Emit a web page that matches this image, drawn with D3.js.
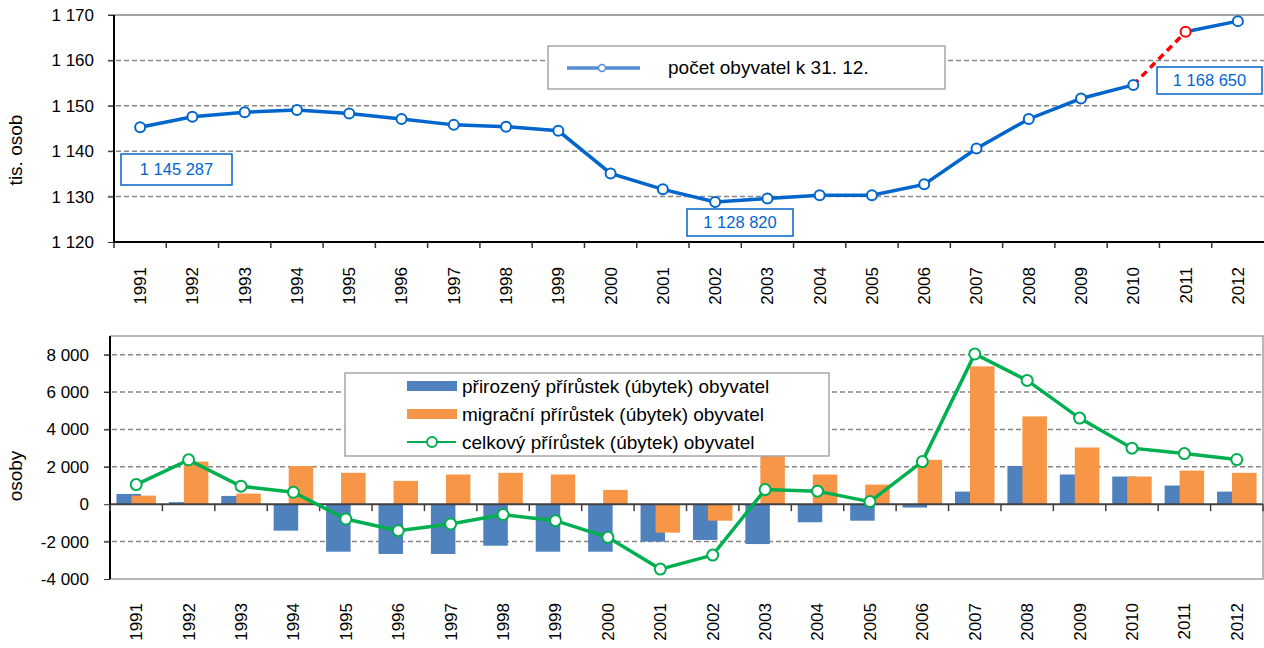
<!DOCTYPE html>
<html>
<head>
<meta charset="utf-8">
<script src="https://cdn.jsdelivr.net/npm/d3@7"></script>
<style>
  body { margin: 0; background: #fff; }
  svg { display: block; font-family: "Liberation Sans", Arial, sans-serif; }
</style>
</head>
<body>
<svg id="chart" width="1264" height="648"></svg>
<script>
// years on both charts
const years = d3.range(1991, 2013).map(String);

// top chart - population at 31. 12. (thousands)
const population = [1145.287, 1147.6, 1148.6, 1149.1, 1148.3, 1147.1, 1145.8, 1145.4, 1144.5, 1135.1,
  1131.6, 1128.82, 1129.6, 1130.3, 1130.3, 1132.7, 1140.6, 1147.1, 1151.6, 1154.6, 1166.3, 1168.65];
const popTicks = [1120, 1130, 1140, 1150, 1160, 1170];
const popLabels = [
  { year: "1991", text: "1 145 287" },
  { year: "2002", text: "1 128 820" },
  { year: "2012", text: "1 168 650" }
];

// bottom chart - natural, migration and total increase (persons)
const natural = [550, 110, 445, -1415, -2540, -2660, -2660, -2220, -2540, -2540,
  -2000, -1910, -2130, -965, -880, -180, 675, 2050, 1590, 1480, 1000, 675];
const migration = [460, 2280, 570, 2040, 1680, 1250, 1590, 1680, 1590, 765,
  -1520, -880, 2900, 1590, 1050, 2375, 7375, 4700, 3035, 1480, 1800, 1680];
const total = [1050, 2375, 965, 640, -790, -1415, -1055, -555, -880, -1770,
  -3470, -2720, 785, 700, 140, 2280, 8040, 6625, 4610, 3000, 2710, 2390];
const incTicks = [-4000, -2000, 0, 2000, 4000, 6000, 8000];
const legendNames = [
  "přirozený přírůstek (úbytek) obyvatel",
  "migrační přírůstek (úbytek) obyvatel",
  "celkový přírůstek (úbytek) obyvatel"
];

const fmt = d3.formatLocale({ decimal: ",", thousands: "\u00a0", grouping: [3], currency: ["", ""], minus: "-" }).format(",d");

const svg = d3.select("#chart");
const blue = "#0066cc", red = "#ff0000", green = "#00b050";
const natColor = "#4f81bd", migColor = "#f79646";
const gridColor = "#868686";

// ================= top chart =================
const x1 = d3.scaleBand().domain(years).range([114, 1264]);
const y1 = d3.scaleLinear().domain([1120, 1170]).range([242, 15]);
const gTop = svg.append("g");

gTop.selectAll("line.grid").data(popTicks.filter(d => d > 1120)).enter().append("line")
  .attr("x1", 108).attr("x2", 1264)
  .attr("y1", d => y1(d)).attr("y2", d => y1(d))
  .attr("stroke", gridColor).attr("stroke-width", 1.5)
  .attr("stroke-dasharray", d => d === 1170 ? null : "5,3");

const yAx1 = gTop.append("g").attr("transform", "translate(114,0)")
  .call(d3.axisLeft(y1).tickValues(popTicks).tickSize(6).tickPadding(14).tickFormat(fmt));
yAx1.select(".domain").remove();
yAx1.selectAll("line").attr("stroke", "#333");
yAx1.selectAll("text").attr("font-size", 17).attr("fill", "#000");

gTop.append("line").attr("x1", 114).attr("x2", 114).attr("y1", 15).attr("y2", 242)
  .attr("stroke", "#000").attr("stroke-width", 2);
gTop.append("line").attr("x1", 114).attr("x2", 1264).attr("y1", 242).attr("y2", 242)
  .attr("stroke", "#000").attr("stroke-width", 2);

// tick marks at band edges
gTop.selectAll("line.xt").data(years).enter().append("line")
  .attr("x1", d => x1(d)).attr("x2", d => x1(d))
  .attr("y1", 242).attr("y2", 248).attr("stroke", "#333").attr("stroke-width", 1.5);

const xAx1 = gTop.append("g").attr("transform", "translate(0,242)")
  .call(d3.axisBottom(x1).tickSize(0));
xAx1.select(".domain").remove();
xAx1.selectAll("text").attr("font-size", 17).attr("fill", "#000")
  .attr("text-anchor", "end").attr("transform", "rotate(-90)")
  .attr("x", -25).attr("y", 0).attr("dy", "0.35em");

gTop.append("text").attr("transform", "translate(22,150) rotate(-90)")
  .attr("text-anchor", "middle").attr("font-size", 19).text("tis. osob");

const pts = population.map((v, i) => ({ year: years[i], v }));
const line1 = d3.line().x(d => x1(d.year) + x1.bandwidth() / 2).y(d => y1(d.v));
gTop.append("path").datum(pts.slice(0, 20)).attr("d", line1)
  .attr("fill", "none").attr("stroke", blue).attr("stroke-width", 3.5);
gTop.append("path").datum(pts.slice(20)).attr("d", line1)
  .attr("fill", "none").attr("stroke", blue).attr("stroke-width", 3.5);
gTop.append("path").datum(pts.slice(19, 21)).attr("d", line1)
  .attr("fill", "none").attr("stroke", red).attr("stroke-width", 3.5).attr("stroke-dasharray", "7,5");
gTop.selectAll("circle.p").data(pts).enter().append("circle")
  .attr("cx", d => x1(d.year) + x1.bandwidth() / 2).attr("cy", d => y1(d.v)).attr("r", 5)
  .attr("fill", "#fff").attr("stroke", d => d.year === "2011" ? red : blue).attr("stroke-width", 2);

// value labels
const boxes = [
  { x: 121, y: 154, w: 111, h: 31 },
  { x: 687, y: 209, w: 106, h: 27 },
  { x: 1157, y: 67, w: 105, h: 27 }
];
popLabels.forEach((l, i) => {
  const b = boxes[i];
  gTop.append("rect").attr("x", b.x).attr("y", b.y).attr("width", b.w).attr("height", b.h)
    .attr("fill", "#fff").attr("stroke", blue).attr("stroke-width", 1.5);
  gTop.append("text").attr("x", b.x + b.w / 2).attr("y", b.y + b.h / 2).attr("dy", "0.35em")
    .attr("text-anchor", "middle").attr("font-size", 16.5).attr("fill", blue).text(l.text);
});

// legend
gTop.append("rect").attr("x", 548).attr("y", 46).attr("width", 397).attr("height", 43)
  .attr("fill", "#fff").attr("stroke", "#a6a6a6").attr("stroke-width", 1.5);
gTop.append("line").attr("x1", 567).attr("x2", 640).attr("y1", 68).attr("y2", 68)
  .attr("stroke", "#558ed5").attr("stroke-width", 3.5);
gTop.append("circle").attr("cx", 602).attr("cy", 68).attr("r", 3.5)
  .attr("fill", "#fff").attr("stroke", "#558ed5").attr("stroke-width", 1.5);
gTop.append("text").attr("x", 668).attr("y", 67).attr("dy", "0.35em")
  .attr("font-size", 19).text("počet obyvatel k 31. 12.");

// ================= bottom chart =================
const x2 = d3.scaleBand().domain(years).range([110, 1263]);
const y2 = d3.scaleLinear().domain([-4000, 9000]).range([579, 336]);
const gBot = svg.append("g");

gBot.selectAll("line.grid").data(incTicks.filter(d => d !== 0 && d !== -4000)).enter().append("line")
  .attr("x1", 104).attr("x2", 1263)
  .attr("y1", d => y2(d)).attr("y2", d => y2(d))
  .attr("stroke", gridColor).attr("stroke-width", 1.5).attr("stroke-dasharray", "5,3");

// plot frame
gBot.append("path").attr("d", `M110,${y2(9000)}H1263V${y2(-4000)}H110`)
  .attr("fill", "none").attr("stroke", "#a0a0a0").attr("stroke-width", 1.5);

const yAx2 = gBot.append("g").attr("transform", "translate(110,0)")
  .call(d3.axisLeft(y2).tickValues(incTicks).tickSize(6).tickPadding(15).tickFormat(fmt));
yAx2.select(".domain").remove();
yAx2.selectAll("line").attr("stroke", "#333");
yAx2.selectAll("text").attr("font-size", 17).attr("fill", "#000");

const bw = 24.5, off = 7.5;
const cx2 = d => x2(d) + x2.bandwidth() / 2;
gBot.selectAll("rect.nat").data(natural).enter().append("rect")
  .attr("x", (d, i) => cx2(years[i]) - off - bw / 2).attr("width", bw)
  .attr("y", d => y2(Math.max(0, d))).attr("height", d => Math.abs(y2(d) - y2(0)))
  .attr("fill", natColor);
gBot.selectAll("rect.mig").data(migration).enter().append("rect")
  .attr("x", (d, i) => cx2(years[i]) + off - bw / 2).attr("width", bw)
  .attr("y", d => y2(Math.max(0, d))).attr("height", d => Math.abs(y2(d) - y2(0)))
  .attr("fill", migColor);

gBot.append("line").attr("x1", 110).attr("x2", 1263).attr("y1", y2(0)).attr("y2", y2(0))
  .attr("stroke", "#404040").attr("stroke-width", 2);
gBot.append("line").attr("x1", 110).attr("x2", 110).attr("y1", y2(9000)).attr("y2", y2(-4000))
  .attr("stroke", "#000").attr("stroke-width", 2);
gBot.selectAll("line.xt").data(years.concat(["end"])).enter().append("line")
  .attr("x1", d => d === "end" ? 1263 : x2(d)).attr("x2", d => d === "end" ? 1263 : x2(d))
  .attr("y1", y2(0)).attr("y2", y2(0) + 7).attr("stroke", "#404040").attr("stroke-width", 1.5);

const xAx2 = gBot.append("g").attr("transform", `translate(0,${y2(-4000)})`)
  .call(d3.axisBottom(x2).tickSize(0));
xAx2.select(".domain").remove();
xAx2.selectAll("text").attr("font-size", 17).attr("fill", "#000")
  .attr("text-anchor", "end").attr("transform", "rotate(-90)")
  .attr("x", -24).attr("y", 0).attr("dy", "0.35em");

gBot.append("text").attr("transform", "translate(22,476) rotate(-90)")
  .attr("text-anchor", "middle").attr("font-size", 19).text("osoby");

const line2 = d3.line().x((d, i) => cx2(years[i])).y(d => y2(d));
gBot.append("path").datum(total).attr("d", line2)
  .attr("fill", "none").attr("stroke", green).attr("stroke-width", 3.5);
gBot.selectAll("circle.t").data(total).enter().append("circle")
  .attr("cx", (d, i) => cx2(years[i])).attr("cy", d => y2(d)).attr("r", 5.5)
  .attr("fill", "#fff").attr("stroke", green).attr("stroke-width", 2);

// legend
const lg = gBot.append("g");
lg.append("rect").attr("x", 345).attr("y", 373).attr("width", 484).attr("height", 83)
  .attr("fill", "#fff").attr("stroke", "#a6a6a6").attr("stroke-width", 1.5);
const rowY = [386, 414, 442];
lg.append("rect").attr("x", 407).attr("y", rowY[0] - 5).attr("width", 50).attr("height", 10).attr("fill", natColor);
lg.append("rect").attr("x", 407).attr("y", rowY[1] - 5).attr("width", 50).attr("height", 10).attr("fill", migColor);
lg.append("line").attr("x1", 407).attr("x2", 456).attr("y1", rowY[2]).attr("y2", rowY[2])
  .attr("stroke", green).attr("stroke-width", 2);
lg.append("circle").attr("cx", 432).attr("cy", rowY[2]).attr("r", 5)
  .attr("fill", "#fff").attr("stroke", green).attr("stroke-width", 2);
lg.selectAll("text").data(legendNames).enter().append("text")
  .attr("x", 462).attr("y", (d, i) => rowY[i]).attr("dy", "0.35em")
  .attr("font-size", 19).text(d => d);
</script>
</body>
</html>
